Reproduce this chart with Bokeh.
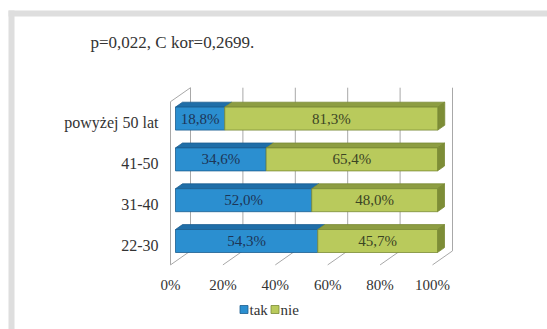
from bokeh.plotting import figure
from bokeh.models import Range1d
from bokeh.core.properties import value
from bokeh.embed import file_html
from bokeh.resources import INLINE

# ---- data ----
categories = ["22-30", "31-40", "41-50", "powyżej 50 lat"]
tak = [54.3, 52.0, 34.6, 18.8]
nie = [45.7, 48.0, 65.4, 81.3]
series_names = ["tak", "nie"]
x_ticks = [0, 20, 40, 60, 80, 100]
x_tick_labels = ["0%", "20%", "40%", "60%", "80%", "100%"]
note = "p=0,022, C kor=0,2699."

# ---- styling ----
FONT = value("Liberation Serif, Times New Roman, serif")
FRONT = ["#2b8fd0", "#b9ca5c"]
TOPS = ["#1f6ea8", "#8d9d42"]
SIDE = "#7d8d36"
EDGE = ["#1c5d8f", "#7a8a35"]
LABEL_COL = ["#1d3557", "#3b4424"]
WALL = "#a8a8a8"
TEXT = "#333333"

W, H = 547, 329
X0_PX = 175.0        # 0 % on the bar front plane
PX_PER_PCT = 2.62
ROW0_PX = 240.5      # centre of the first row, from the top
PX_PER_ROW = 40.8

x_range = Range1d(-X0_PX / PX_PER_PCT, (W - X0_PX) / PX_PER_PCT)
y_bot = -(H - ROW0_PX) / PX_PER_ROW
y_range = Range1d(y_bot, y_bot + H / PX_PER_ROW)


def sx(px):
    return (px - X0_PX) / PX_PER_PCT


def sy(py):
    return (ROW0_PX - py) / PX_PER_ROW


def dx(px):
    return px / PX_PER_PCT


def dy(px):
    return px / PX_PER_ROW


SLOPE = 0.7          # vertical rise per horizontal px of depth
FRONT_D = -5         # front plane relative to bar faces (px)
BACK_D = 15          # back wall relative to bar faces (px)
BAR_D = 7            # bar depth (px)
HALF = 23 / PX_PER_ROW / 2

p = figure(width=W, height=H, x_range=x_range, y_range=y_range,
           output_backend="svg", toolbar_location=None, min_border=0,
           outline_line_color=None, background_fill_color="white",
           border_fill_color="white")
p.axis.visible = False
p.grid.visible = False

# page frame strips
p.quad(left=[sx(8), sx(8)], right=[sx(W), sx(14)],
       top=[sy(10), sy(10)], bottom=[sy(16), sy(H)],
       fill_color="#dedede", line_color=None)

n = len(categories)
lo, hi = -0.5, n - 0.5


def shift(x, y, d):
    return x + dx(d), y + dy(SLOPE * d)


# back wall gridlines and floor lines
xs, ys = [], []
for v in x_ticks:
    bx0, by0 = shift(v, lo, BACK_D)
    bx1, by1 = shift(v, hi, BACK_D)
    xs.append([bx0, bx1]); ys.append([by0, by1])
    fx, fy = shift(v, lo, FRONT_D)
    xs.append([fx, bx0]); ys.append([fy, by0])
# left wall front edge and top edge
fx0, fy0 = shift(0, lo, FRONT_D)
fx1, fy1 = shift(0, hi, FRONT_D)
bx1, by1 = shift(0, hi, BACK_D)
xs.append([fx0, fx1]); ys.append([fy0, fy1])
xs.append([fx1, bx1]); ys.append([fy1, by1])
p.multi_line(xs, ys, line_color=WALL, line_width=1)

# 3-D stacked bars
bdx, bdy = dx(BAR_D), dy(SLOPE * BAR_D)
series = [tak, nie]
for i in range(n):
    left = 0.0
    segs = []
    for s, vals in enumerate(series):
        segs.append((left, left + vals[i], s))
        left += vals[i]
    top, bot = i + HALF, i - HALF
    for l, r, s in segs:
        p.patch([l, r, r + bdx, l + bdx], [top, top, top + bdy, top + bdy],
                fill_color=TOPS[s], line_color=EDGE[s], line_width=0.8)
    l, r, s = segs[-1]
    p.patch([r, r, r + bdx, r + bdx], [bot, top, top + bdy, bot + bdy],
            fill_color=SIDE, line_color=EDGE[s], line_width=0.8)
    for l, r, s in segs:
        p.quad(left=[l], right=[r], top=[top], bottom=[bot],
               fill_color=FRONT[s], line_color=EDGE[s], line_width=0.8)
        txt = f"{series[s][i]:.1f}".replace(".", ",") + "%"
        p.text(x=[(l + r) / 2], y=[i], text=[txt], text_font=FONT,
               text_font_size="15px", text_color=LABEL_COL[s],
               text_align="center", text_baseline="middle")

# category labels
p.text(x=[sx(158)] * n, y=[i - dy(4) for i in range(n)], text=categories,
       text_font=FONT, text_font_size="16px", text_color=TEXT,
       text_align="right", text_baseline="middle")

# x tick labels on the front plane
p.text(x=[v + dx(FRONT_D) for v in x_ticks], y=[sy(284)] * len(x_ticks),
       text=x_tick_labels, text_font=FONT, text_font_size="15px",
       text_color=TEXT, text_align="center", text_baseline="middle")

# note above the chart
p.text(x=[sx(90)], y=[sy(42)], text=[note], text_font=FONT,
       text_font_size="17px", text_color=TEXT, text_align="left",
       text_baseline="middle")

# legend
lx = [sx(243.5), sx(274.5)]
p.scatter(x=lx, y=[sy(309)] * 2, marker="square", size=8,
          fill_color=FRONT, line_color=EDGE, line_width=0.8)
p.text(x=[sx(249), sx(280)], y=[sy(309)] * 2, text=series_names,
       text_font=FONT, text_font_size="15px", text_color=TEXT,
       text_align="left", text_baseline="middle")

open("out.html", "w").write(file_html(p, INLINE))
